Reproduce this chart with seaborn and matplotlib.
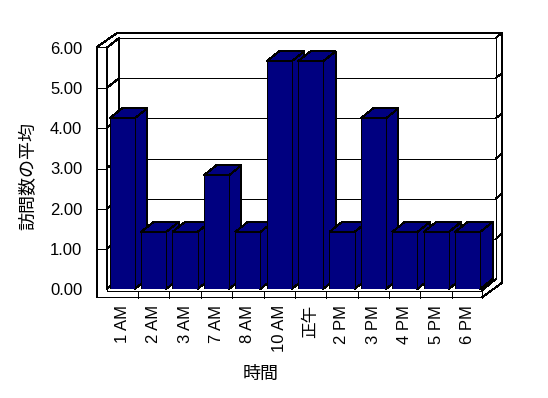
import matplotlib
matplotlib.use("Agg")
import numpy as np
import pandas as pd
import seaborn as sns
import matplotlib.pyplot as plt
from matplotlib.patches import Polygon
from matplotlib.lines import Line2D
from matplotlib.transforms import IdentityTransform

# ---- data ----
categories = ["1 AM", "2 AM", "3 AM", "7 AM", "8 AM", "10 AM", "正午",
              "2 PM", "3 PM", "4 PM", "5 PM", "6 PM"]
values = [4.25, 1.42, 1.42, 2.83, 1.42, 5.67, 5.67, 1.42, 4.25, 1.42, 1.42, 1.42]
y_ticks = [0, 1, 2, 3, 4, 5, 6]
y_tick_labels = ["0.00", "1.00", "2.00", "3.00", "4.00", "5.00", "6.00"]
x_title = "時間"
y_title = "訪問数の平均"

# ---- style ----
W, H = 548, 398
sns.set_theme(style="white")
plt.rcParams['font.family'] = ['Liberation Sans', 'Noto Sans CJK JP']
BAR = "#000080"
LW = 0.72

fig = plt.figure(figsize=(W / 100, H / 100), dpi=100)
fig.patch.set_facecolor("white")
# front plane of the 3D box (pixel positions)
L, R, T, B = 106.5, 483.3, 48, 289
ax = fig.add_axes([L / W, 1 - B / H, (R - L) / W, (B - T) / H])

df = pd.DataFrame({"cat": categories, "val": values})
sns.barplot(data=df, x="cat", y="val", order=categories, color=BAR, saturation=1,
            width=0.8, edgecolor="black", linewidth=LW, errorbar=None, ax=ax)
ax.set_xlim(-0.5, len(categories) - 0.5)
ax.set_ylim(y_ticks[0], y_ticks[-1])
ax.set_facecolor("none")
for s in ax.spines.values():
    s.set_visible(False)
ax.grid(False)
ax.set_yticks(y_ticks, y_tick_labels)
ax.tick_params(axis="y", length=0, pad=17.5, labelsize=12, colors="black")
ax.tick_params(axis="x", length=0, pad=11.5, labelsize=12, labelrotation=90, colors="black")
ax.set_xlabel(x_title, fontsize=13, color="black")
ax.set_ylabel(y_title, fontsize=13, color="black")
ax.xaxis.set_label_coords(0.409, -0.353)
ax.xaxis.label.set_va("center")
ax.yaxis.set_label_coords(-0.207, 0.467)
ax.yaxis.label.set_va("center")
ax.yaxis.label.set_ha("center")

# ---- 3D box decoration, computed from the axes' own transform ----
DX, DY = 12.5, 10.0          # depth offset in pixels (display, up positive)
xl, xr = ax.get_xlim()
y0, y1 = ax.get_ylim()
IT = IdentityTransform()


def P(x, y, ox=0.0, oy=0.0):
    X, Y = ax.transData.transform((x, y))
    return (X + ox, Y + oy)


def line(a, b, z=1):
    ax.add_line(Line2D([a[0], b[0]], [a[1], b[1]], color="black", lw=LW,
                       transform=IT, clip_on=False, zorder=z, antialiased=False))


def poly(pts, fc="white", z=0):
    ax.add_patch(Polygon(pts, closed=True, facecolor=fc, edgecolor="black",
                         lw=LW, transform=IT, clip_on=False, zorder=z,
                         joinstyle="miter", antialiased=False))


# outer silhouette
poly([P(xl, y1, -9.5, 1), P(xl, y1, DX - 2, DY + 5), P(xr, y1, DX + 6, DY + 5),
      P(xr, y0, DX + 6, 6), P(xr, y0, -1.5, -8.5), P(xl, y0, -9.5, -8.5)], z=0.1)
# back wall inner face
poly([P(xl, y0, DX, DY), P(xr, y0, DX, DY), P(xr, y1, DX, DY), P(xl, y1, DX, DY)], z=0.2)
# left wall inner face
poly([P(xl, y0), P(xl, y0, DX, DY), P(xl, y1, DX, DY), P(xl, y1)], z=0.3)
line(P(xl, y1, -9.5, 1), P(xl, y1, 0, 1))
line(P(xl, y1), P(xl, y0, 0, -1.5))
line(P(xr, y1, DX, DY), P(xr, y1, DX + 6, DY + 5))
# floor front face
line(P(xl, y0, 0, -1.5), P(xr, y0, -1.5, -1.5))
line(P(xr, y0, -1.5, -1.5), P(xr, y0, -1.5, -8.5))
line(P(xr, y0, -1.5, -1.5), P(xr, y0, DX, DY))
for k in range(1, len(categories)):
    line(P(k - 0.5, y0, 0, -1.5), P(k - 0.5, y0, 0, -8.5))
# gridlines
for v in y_ticks[1:-1]:
    line(P(xl, v, -9.5, 0), P(xl, v))
    line(P(xl, v), P(xl, v, DX, DY))
    line(P(xl, v, DX, DY), P(xr, v, DX, DY))
    line(P(xr, v, DX, DY), P(xr, v, DX + 6, DY + 5))

# ---- bar sides and tops ----
bars = [p for p in ax.patches if hasattr(p, "get_width") and p.get_height() > 0
        and p.get_transform() is not IT]
bars = sorted(bars, key=lambda p: p.get_x())
for i, p in enumerate(bars):
    x0, w, h = p.get_x(), p.get_width(), p.get_height()
    base = 10 + 3 * i
    p.set_zorder(base + 2)
    p.set_antialiased(False)
    poly([P(x0 + w, 0), P(x0 + w, h), P(x0 + w, h, DX, DY), P(x0 + w, 0, DX, DY)],
         fc=BAR, z=base)
    poly([P(x0, h), P(x0 + w, h), P(x0 + w, h, DX, DY), P(x0, h, DX, DY)],
         fc=BAR, z=base + 1)

fig.savefig("out.png", dpi=100, facecolor="white")
